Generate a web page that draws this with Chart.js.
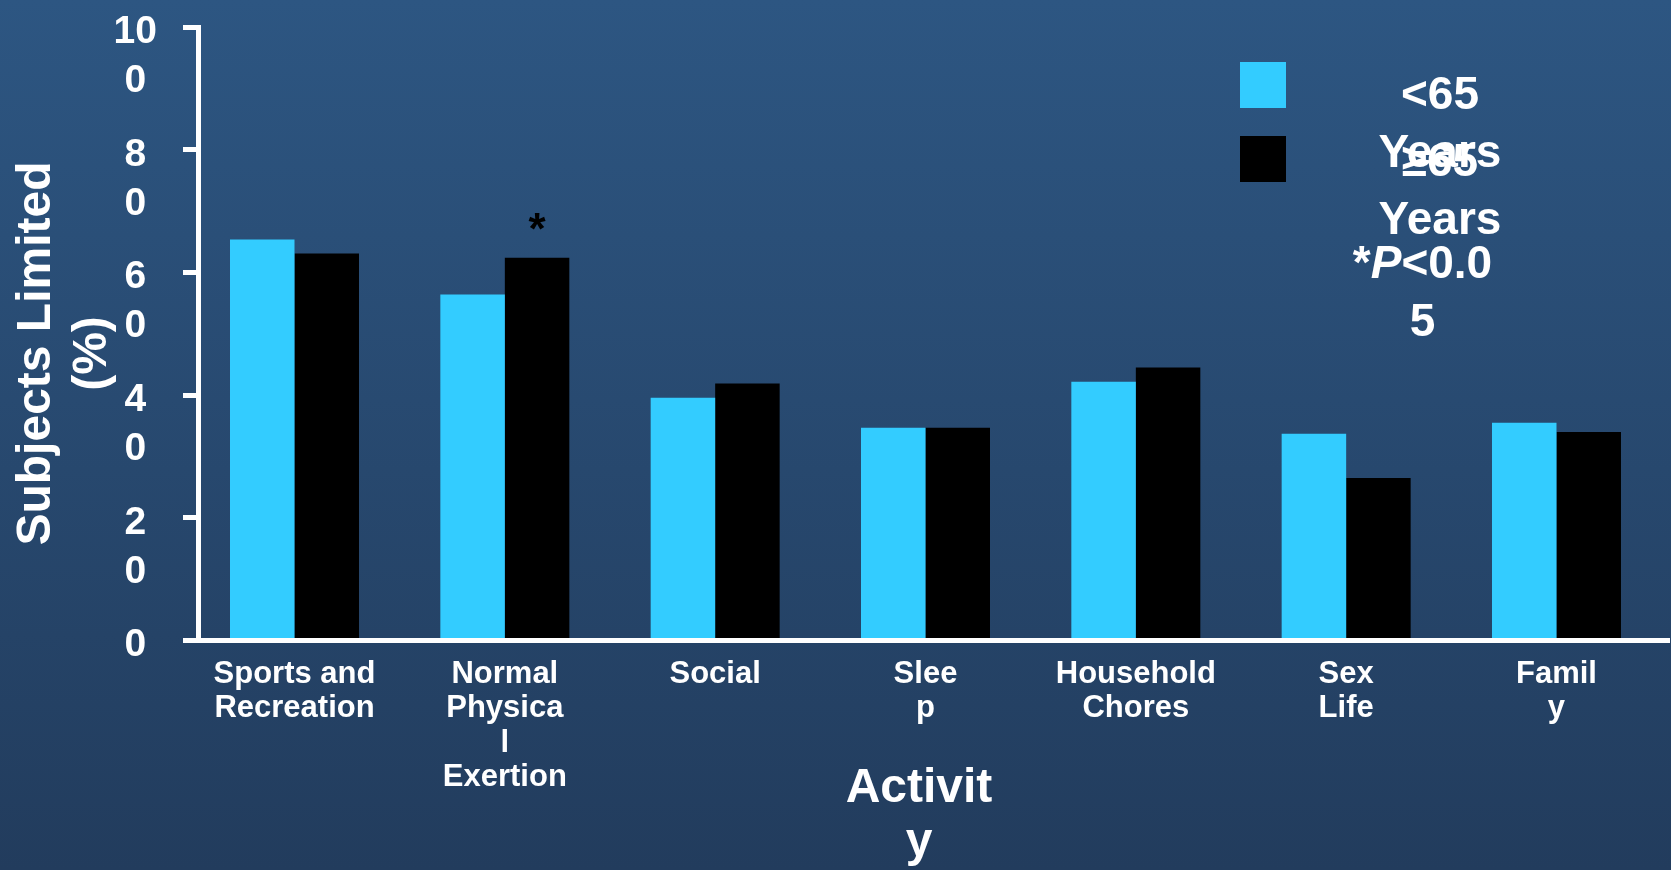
<!DOCTYPE html>
<html>
<head>
<meta charset="utf-8">
<title>Subjects Limited by Activity</title>
<script src="https://cdn.jsdelivr.net/npm/chart.js@4.4.1/dist/chart.umd.min.js"></script>
<style>
  html, body { margin: 0; padding: 0; }
  body {
    width: 1671px; height: 870px; overflow: hidden;
    background: linear-gradient(to bottom, #2d5682 0%, #223c5d 100%);
  }
  canvas { display: block; }
</style>
</head>
<body>
<canvas id="chart" width="1671" height="870"></canvas>
<script>
// Activity categories (line breaks as laid out under the axis)
const categories = [
  ["Sports and", "Recreation"],
  ["Normal", "Physica", "l", "Exertion"],
  ["Social"],
  ["Slee", "p"],
  ["Household", "Chores"],
  ["Sex", "Life"],
  ["Famil", "y"]
];

// Percentage of subjects limited, by age group
const under65 = [65.4, 56.4, 39.6, 34.7, 42.2, 33.7, 35.5];
const over65  = [63.1, 62.4, 41.9, 34.7, 44.5, 26.5, 34.0];

const seriesLabels = [["<65", "Years"], ["\u226565", "Years"]];
const seriesColors = ["#33ccff", "#000000"];

// Y tick labels, one entry per 20 %
const yTickLabels = [["0", ""], ["2", "0"], ["4", "0"], ["6", "0"], ["8", "0"], ["10", "0"]];

const yTitle = ["Subjects Limited", "(%)"];
const xTitle = ["Activit", "y"];
const noteLines = ["*P<0.0", "5"];

// Bars flagged as significant (series index, category index)
const starred = [{ series: 1, index: 1 }];

const FAMILY = "'Liberation Sans', Arial, Helvetica, sans-serif";
Chart.defaults.font.family = FAMILY;
Chart.defaults.color = "#ffffff";

// Axis titles, legend, significance note and asterisks
const overlay = {
  id: "overlay",
  afterDraw(chart) {
    const ctx = chart.ctx;
    ctx.save();
    ctx.fillStyle = "#ffffff";
    ctx.textAlign = "center";
    ctx.textBaseline = "middle";

    // x axis title
    ctx.font = `bold 48px ${FAMILY}`;
    xTitle.forEach((t, i) => ctx.fillText(t, 919, 788.5 + i * 54.3));

    // y axis title (rotated)
    ctx.save();
    ctx.translate(37, 353.5);
    ctx.rotate(-Math.PI / 2);
    yTitle.forEach((t, i) => ctx.fillText(t, 0, i * 56.1));
    ctx.restore();

    // legend
    chart.data.datasets.forEach((ds, i) => {
      const top = 62 + i * 74;
      ctx.fillStyle = ds.backgroundColor;
      ctx.fillRect(1240, top, 46, 46);
      ctx.fillStyle = "#ffffff";
      ctx.font = `bold 46px ${FAMILY}`;
      const firstY = i === 0 ? 96 : 163.5;
      seriesLabels[i].forEach((t, k) => ctx.fillText(t, 1440, firstY + k * 58));
    });

    // significance note, with italic P
    const noteFont = `bold 46px ${FAMILY}`;
    const noteItalic = `italic bold 46px ${FAMILY}`;
    const first = noteLines[0];
    const segs = [
      { t: first.slice(0, 1), f: noteFont },
      { t: first.slice(1, 2), f: noteItalic },
      { t: first.slice(2), f: noteFont }
    ];
    let total = 0;
    segs.forEach(s => { ctx.font = s.f; s.w = ctx.measureText(s.t).width; total += s.w; });
    let x = 1422.5 - total / 2;
    ctx.textAlign = "left";
    segs.forEach(s => { ctx.font = s.f; ctx.fillText(s.t, x, 265.5); x += s.w; });
    ctx.textAlign = "center";
    ctx.font = noteFont;
    noteLines.slice(1).forEach((t, k) => ctx.fillText(t, 1422.5, 323.5 + k * 58));

    // asterisks over significant bars
    ctx.fillStyle = "#000000";
    ctx.font = `bold 44px ${FAMILY}`;
    ctx.textBaseline = "alphabetic";
    const m = ctx.measureText("*");
    const off = (m.actualBoundingBoxAscent - m.actualBoundingBoxDescent) / 2;
    starred.forEach(s => {
      const el = chart.getDatasetMeta(s.series).data[s.index];
      ctx.fillText("*", el.x, el.y - 36 + off);
    });
    ctx.restore();
  }
};

const toPoints = arr => arr.map((v, i) => ({ x: i, y: v }));

new Chart(document.getElementById("chart"), {
  type: "bar",
  data: {
    datasets: [
      {
        label: seriesLabels[0].join(" "),
        data: toPoints(under65),
        backgroundColor: seriesColors[0],
        borderWidth: 0,
        categoryPercentage: 0.6133,
        barPercentage: 1
      },
      {
        label: seriesLabels[1].join(" "),
        data: toPoints(over65),
        backgroundColor: seriesColors[1],
        borderWidth: 0,
        categoryPercentage: 0.6133,
        barPercentage: 1
      }
    ]
  },
  options: {
    responsive: false,
    animation: false,
    layout: { padding: { top: 27.2, right: 2, left: 0, bottom: 0 } },
    plugins: {
      legend: { display: false },
      tooltip: { enabled: false }
    },
    scales: {
      x: {
        type: "linear",
        min: -0.4588,
        max: 6.5349,
        offset: false,
        grid: { display: false, drawTicks: false, offset: false },
        border: { display: true, color: "#ffffff", width: 5, z: 1 },
        ticks: {
          stepSize: 1,
          includeBounds: false,
          autoSkip: false,
          maxRotation: 0,
          minRotation: 0,
          padding: 16.5,
          color: "#ffffff",
          font: { size: 31, weight: "bold", lineHeight: 1.11 },
          callback: v => (Number.isInteger(v) && categories[v]) ? categories[v] : ""
        },
        afterFit: s => { s.height = 229.5; s.paddingLeft = 0; s.paddingRight = 0; }
      },
      y: {
        min: 0,
        max: 100,
        grid: {
          drawOnChartArea: false,
          drawTicks: true,
          tickLength: 15,
          tickWidth: 5,
          tickColor: "#ffffff"
        },
        border: { display: true, color: "#ffffff", width: 5, z: 1 },
        ticks: {
          stepSize: 20,
          crossAlign: "center",
          padding: 26,
          labelOffset: 29.5,
          color: "#ffffff",
          font: { size: 39, weight: "bold", lineHeight: 49 / 39 },
          callback: v => yTickLabels[Math.round(v / 20)]
        },
        afterFit: s => { s.width = 198; s.paddingTop = 0; s.paddingBottom = 0; }
      }
    }
  },
  plugins: [overlay]
});
</script>
</body>
</html>
